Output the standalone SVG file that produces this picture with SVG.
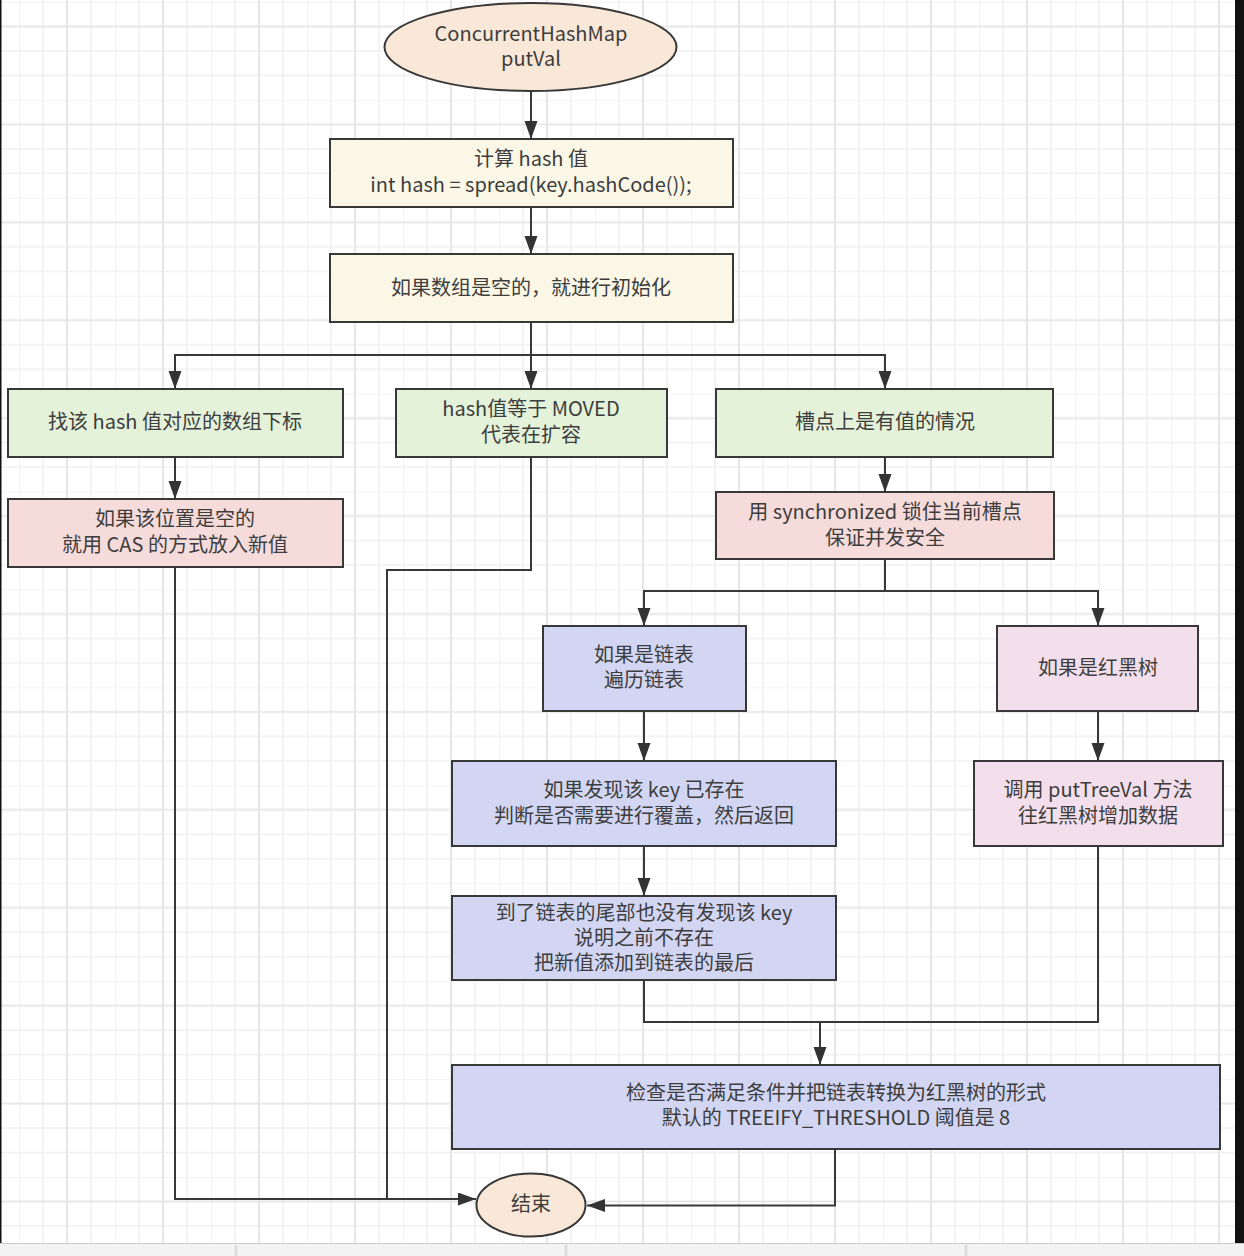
<svg xmlns="http://www.w3.org/2000/svg" width="1244" height="1256" viewBox="0 0 1244 1256">
  <defs>
    <!-- light drawing-board grid: fine lines every 24px, stronger every fourth -->
    <pattern id="grid" patternUnits="userSpaceOnUse" x="19" y="2" width="96" height="97.92">
      <g stroke="#efefef" stroke-width="1.5">
        <line x1="0" y1="0" x2="0" y2="97.92"/>
        <line x1="24" y1="0" x2="24" y2="97.92"/>
        <line x1="72" y1="0" x2="72" y2="97.92"/>
        <line x1="0" y1="0" x2="96" y2="0"/>
        <line x1="0" y1="48.96" x2="96" y2="48.96"/>
        <line x1="0" y1="73.44" x2="96" y2="73.44"/>
      </g>
      <g stroke="#e7e7e7" stroke-width="2.2">
        <line x1="48" y1="0" x2="48" y2="97.92"/>
        <line x1="0" y1="24.48" x2="96" y2="24.48"/>
      </g>
    </pattern>
    <marker id="arrow" markerUnits="userSpaceOnUse" markerWidth="20" markerHeight="14" refX="18" refY="6.5" orient="auto">
      <path d="M0,0 L18,6.5 L0,13 Z" fill="#333"/>
    </marker>
  </defs>
  <style>
    .shape { stroke: #383838; stroke-width: 2; }
    .start { fill: #f9e8d7; }
    .cream { fill: #fbf7e7; }
    .green { fill: #e4f2da; }
    .rose { fill: #f6dbdb; }
    .blue { fill: #d2d6f3; }
    .mauve { fill: #f3dfeb; }
    text { font-family: "Noto Sans CJK SC", "Noto Sans", sans-serif; font-size: 20px; fill: #3d3d3d; text-anchor: middle; }
    .edge { fill: none; stroke: #383838; stroke-width: 2; }
  </style>

  <!-- canvas -->
  <rect x="0" y="0" width="1244" height="1256" fill="#ffffff"/>
  <rect x="0" y="0" width="1235" height="1243" fill="url(#grid)"/>
  <rect x="0" y="1243" width="1244" height="13" fill="#f3f3f3"/>
  <line x1="0" y1="1243.5" x2="1244" y2="1243.5" stroke="#c9c9c9" stroke-width="1"/>
  <g stroke="#dcdcdc" stroke-width="3">
    <line x1="236" y1="1245" x2="236" y2="1256"/>
    <line x1="566" y1="1245" x2="566" y2="1256"/>
    <line x1="966" y1="1245" x2="966" y2="1256"/>
  </g>
  <rect x="0" y="0" width="1.5" height="1243" fill="#111"/>
  <rect x="1235" y="0" width="9" height="1243" fill="#111"/>

  <!-- connectors -->
  <g id="connectors">
    <path class="edge" d="M531,91 V139" marker-end="url(#arrow)"/>
    <path class="edge" d="M531,207 V254" marker-end="url(#arrow)"/>
    <path class="edge" d="M531,322 V389" marker-end="url(#arrow)"/>
    <path class="edge" d="M531,355 H175 V389" marker-end="url(#arrow)"/>
    <path class="edge" d="M531,355 H885 V389" marker-end="url(#arrow)"/>
    <path class="edge" d="M175,457 V499" marker-end="url(#arrow)"/>
    <path class="edge" d="M885,457 V492" marker-end="url(#arrow)"/>
    <path class="edge" d="M885,559 V591 H644 V626" marker-end="url(#arrow)"/>
    <path class="edge" d="M885,591 H1098 V626" marker-end="url(#arrow)"/>
    <path class="edge" d="M644,711 V761" marker-end="url(#arrow)"/>
    <path class="edge" d="M1098,711 V761" marker-end="url(#arrow)"/>
    <path class="edge" d="M644,846 V896" marker-end="url(#arrow)"/>
    <path class="edge" d="M644,981 V1022 H1098 V847"/>
    <path class="edge" d="M820,1022 V1065" marker-end="url(#arrow)"/>
    <path class="edge" d="M175,567 V1199 H476" marker-end="url(#arrow)"/>
    <path class="edge" d="M531,457 V570 H387 V1199"/>
    <path class="edge" d="M835,1149 V1205.5 H587" marker-end="url(#arrow)"/>
  </g>

  <!-- nodes -->
  <g id="start">
    <ellipse class="shape start" cx="530.5" cy="47" rx="146" ry="44"/>
    <text x="531" y="41">ConcurrentHashMap</text>
    <text x="531" y="66">putVal</text>
  </g>
  <g id="compute-hash">
    <rect class="shape cream" x="330" y="139" width="403" height="68"/>
    <text x="531" y="166">计算 hash 值</text>
    <text x="531" y="192">int hash = spread(key.hashCode());</text>
  </g>
  <g id="init-table">
    <rect class="shape cream" x="330" y="254" width="403" height="68"/>
    <text x="531" y="295">如果数组是空的，就进行初始化</text>
  </g>
  <g id="find-index">
    <rect class="shape green" x="8" y="389" width="335" height="68"/>
    <text x="175" y="429">找该 hash 值对应的数组下标</text>
  </g>
  <g id="moved">
    <rect class="shape green" x="396" y="389" width="271" height="68"/>
    <text x="531" y="416">hash值等于 MOVED</text>
    <text x="531" y="442">代表在扩容</text>
  </g>
  <g id="slot-taken">
    <rect class="shape green" x="716" y="389" width="337" height="68"/>
    <text x="885" y="429">槽点上是有值的情况</text>
  </g>
  <g id="cas-insert">
    <rect class="shape rose" x="8" y="499" width="335" height="68"/>
    <text x="175" y="526">如果该位置是空的</text>
    <text x="175" y="552">就用 CAS 的方式放入新值</text>
  </g>
  <g id="synchronized">
    <rect class="shape rose" x="716" y="492" width="338" height="67"/>
    <text x="885" y="519">用 synchronized 锁住当前槽点</text>
    <text x="885" y="545">保证并发安全</text>
  </g>
  <g id="linked-list">
    <rect class="shape blue" x="543" y="626" width="203" height="85"/>
    <text x="644" y="662">如果是链表</text>
    <text x="644" y="687">遍历链表</text>
  </g>
  <g id="red-black-tree">
    <rect class="shape mauve" x="997" y="626" width="201" height="85"/>
    <text x="1098" y="675">如果是红黑树</text>
  </g>
  <g id="key-exists">
    <rect class="shape blue" x="452" y="761" width="384" height="85"/>
    <text x="644" y="797">如果发现该 key 已存在</text>
    <text x="644" y="823">判断是否需要进行覆盖，然后返回</text>
  </g>
  <g id="put-tree-val">
    <rect class="shape mauve" x="974" y="761" width="249" height="85"/>
    <text x="1098" y="797">调用 putTreeVal 方法</text>
    <text x="1098" y="823">往红黑树增加数据</text>
  </g>
  <g id="append-tail">
    <rect class="shape blue" x="452" y="896" width="384" height="84"/>
    <text x="644" y="920">到了链表的尾部也没有发现该 key</text>
    <text x="644" y="945">说明之前不存在</text>
    <text x="644" y="970">把新值添加到链表的最后</text>
  </g>
  <g id="treeify">
    <rect class="shape blue" x="452" y="1065" width="768" height="84"/>
    <text x="836" y="1100">检查是否满足条件并把链表转换为红黑树的形式</text>
    <text x="836" y="1125">默认的 TREEIFY_THRESHOLD 阈值是 8</text>
  </g>
  <g id="end">
    <ellipse class="shape start" cx="531" cy="1205" rx="54.5" ry="31.5"/>
    <text x="531" y="1211">结束</text>
  </g>
</svg>
